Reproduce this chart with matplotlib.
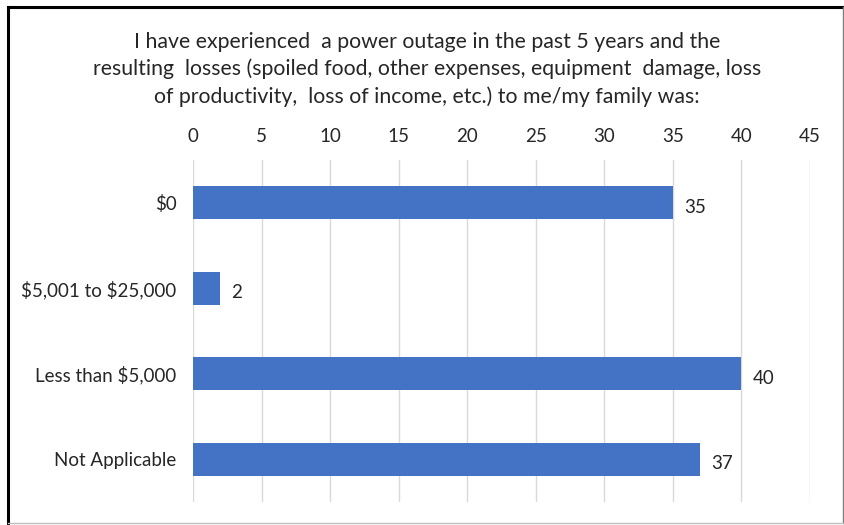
import matplotlib.pyplot as plt
from matplotlib.lines import Line2D

categories = ['$0', '$5,001 to $25,000', 'Less than $5,000', 'Not Applicable']
counts = [35, 2, 40, 37]
xticks = [0, 5, 10, 15, 20, 25, 30, 35, 40, 45]
title = ('I have experienced  a power outage in the past 5 years and the\n'
         'resulting  losses (spoiled food, other expenses, equipment  damage, loss\n'
         'of productivity,  loss of income, etc.) to me/my family was:')

plt.rcParams['font.family'] = ['Lato', 'DejaVu Sans']
text_color = '#262626'

fig = plt.figure(figsize=(8.44, 5.25), dpi=100)
ax = fig.add_axes([0.2287, 0.0438, 0.9597 - 0.2287, 0.6952 - 0.0438])

y = range(len(categories))
ax.barh(y, counts, height=0.39, color='#4472C4', zorder=3)
for yi, v in zip(y, counts):
    ax.text(v + 0.8, yi + 0.05, str(v), va='center', ha='left', fontsize=13.5,
            color=text_color)

ax.set_xlim(0, 45)
ax.set_ylim(len(categories) - 0.5, -0.5)
ax.set_xticks(xticks)
ax.set_yticks(list(y))
ax.set_yticklabels(categories, parse_math=False)
ax.xaxis.tick_top()
ax.tick_params(axis='x', length=0, pad=11, labelsize=13.5, colors=text_color)
ax.tick_params(axis='y', length=0, pad=12, labelsize=13.5, colors=text_color)
ax.grid(axis='x', color='#D9D9D9', linewidth=1, zorder=0)
for s in ax.spines.values():
    s.set_visible(False)

fig.text(0.506, 0.868, title, ha='center', va='center',
         fontsize=15.3, color=text_color, linespacing=1.42)

# frame around the chart
frame = [((0.009, 0.009), (0.004, 0.987), 'black', 2.2),
         ((0.009, 0.999), (0.987, 0.987), 'black', 2.2),
         ((0.999, 0.999), (0.004, 0.987), '#7F7F7F', 1.0),
         ((0.009, 0.999), (0.004, 0.004), '#BFBFBF', 1.0)]
for xs, ys, c, lw in frame:
    fig.add_artist(Line2D(xs, ys, color=c, linewidth=lw, transform=fig.transFigure))

fig.savefig('out.png', dpi=100)
